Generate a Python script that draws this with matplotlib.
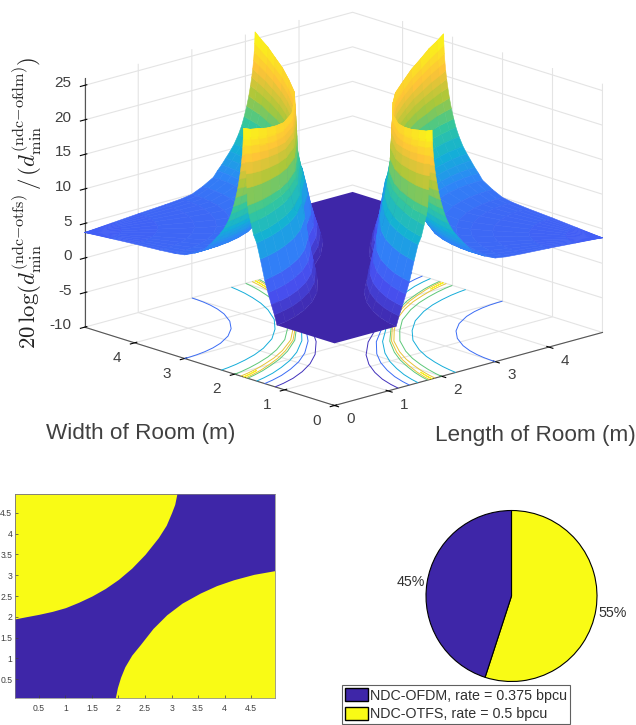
import numpy as np
import matplotlib
matplotlib.use("Agg")
import matplotlib.pyplot as plt
from matplotlib.colors import LinearSegmentedColormap, Normalize
from matplotlib.patches import Patch
from mpl_toolkits.mplot3d import proj3d
from mpl_toolkits.mplot3d.art3d import Poly3DCollection

plt.rcParams["font.family"] = ["Liberation Sans", "DejaVu Sans"]
plt.rcParams["mathtext.fontset"] = "cm"
plt.rcParams["axes.unicode_minus"] = False
plt.rcParams["grid.color"] = "#e4e4e4"
plt.rcParams["grid.linewidth"] = 0.8

BLUE = "#3e26a8"
YELLOW = "#f9fb15"
TEXT = "#404040"

angles_deg = [0, 3, 7, 12, 18, 25, 35, 45]
ridge_r = [3.18, 3.14, 3.09, 3.03, 2.98, 2.93, 2.89, 2.86]
rim_r = [3.85, 3.81, 3.75, 3.66, 3.55, 3.42, 3.25, 3.12]
# round the corner the surface only depends on the distance
bowl_r = [0, 0.5, 1.0, 1.5, 1.8, 2.0, 2.2, 2.4]
bowl_db = [3.7, 4.0, 4.3, 4.55, 4.75, 5.0, 5.7, 6.6]
# stations from r = 2.4 up to the ridge, then from the ridge down to the rim
rise_frac = [.1, .2, .3, .4, .5, .6, .68, .74, .8, .85, .89, .92, .945, .965, .98, .99, 1]
fall_frac = [.015, .03, .045, .06, .08, .1, .12, .16, .22, .3, .39, .5, .63, .73, .83, .92, 1]
gain_db = [
    [7.4, 8.1, 8.9, 9.7, 10.6, 11.8, 13, 14.2, 15.6, 17.0, 18.4, 19.6, 20.8, 22.0, 23.2, 24.4, 26.0,
     24.8, 23.6, 22.4, 21.2, 19.5, 17.5, 15.0, 13.8, 12.6, 11, 10, 7.8, 5, 3.3, 1.7, 0.4],
    [7.4, 8.1, 8.9, 9.7, 10.6, 11.8, 13, 14.1, 15.5, 16.8, 18.2, 19.3, 20.4, 21.6, 22.7, 23.9, 25.4,
     24.3, 23.1, 22.0, 20.8, 19.2, 17.3, 14.9, 13.8, 12.6, 11, 10, 7.8, 5, 3.3, 1.7, 0.4],
    [7.4, 8.1, 8.9, 9.7, 10.6, 11.8, 13, 14.1, 15.4, 16.7, 17.9, 19.0, 20.1, 21.2, 22.3, 23.4, 24.9,
     23.8, 22.7, 21.6, 20.5, 18.9, 17.1, 14.8, 13.7, 12.6, 11, 10, 7.8, 5, 3.3, 1.7, 0.4],
    [7.4, 8.1, 8.9, 9.7, 10.6, 11.8, 13, 14.0, 15.2, 16.4, 17.7, 18.7, 19.7, 20.8, 21.8, 22.8, 24.2,
     23.2, 22.1, 21.1, 20.1, 18.6, 16.9, 14.7, 13.7, 12.6, 11, 10, 7.8, 5, 3.3, 1.7, 0.4],
    [7.4, 8.1, 8.9, 9.7, 10.6, 11.8, 13, 14.0, 15.1, 16.3, 17.4, 18.4, 19.4, 20.3, 21.3, 22.3, 23.6,
     22.6, 21.6, 20.7, 19.7, 18.3, 16.7, 14.6, 13.7, 12.6, 11, 10, 7.8, 5, 3.3, 1.7, 0.4],
    [7.4, 8.1, 8.9, 9.7, 10.6, 11.8, 13, 13.9, 15.0, 16.1, 17.2, 18.1, 19.0, 20.0, 20.9, 21.8, 23.0,
     22.1, 21.2, 20.2, 19.3, 18.0, 16.5, 14.5, 13.6, 12.6, 11, 10, 7.8, 5, 3.3, 1.7, 0.4],
    [7.4, 8.1, 8.9, 9.7, 10.6, 11.8, 13, 13.9, 15.0, 16.0, 17.1, 18.0, 18.9, 19.8, 20.7, 21.6, 22.8,
     21.9, 21.0, 20.1, 19.2, 17.9, 16.4, 14.5, 13.6, 12.6, 11, 10, 7.8, 5, 3.3, 1.7, 0.4],
    [7.4, 8.1, 8.9, 9.7, 10.6, 11.8, 13, 13.9, 15.0, 16.1, 17.2, 18.1, 19.0, 20.0, 20.9, 21.8, 23.0,
     22.1, 21.2, 20.2, 19.3, 18.0, 16.5, 14.5, 13.6, 12.6, 11, 10, 7.8, 5, 3.3, 1.7, 0.4],
]
plateau_db = -1
contour_levels = [0, 5, 10, 15, 20, 25]

xy_ticks = [0, 1, 2, 3, 4]
z_ticks = [-10, -5, 0, 5, 10, 15, 20, 25]

# yellow regions of the map
ul_x = [0.05, 0.25, 0.5, 0.75, 1.0, 1.25, 1.5, 1.75, 2.0, 2.25, 2.5, 2.75, 2.9, 3.0, 3.06, 3.1]
ul_y = [1.95, 2.0, 2.06, 2.13, 2.22, 2.35, 2.5, 2.68, 2.9, 3.17, 3.5, 3.9, 4.2, 4.5, 4.7, 4.95]
lr_x = [1.94, 1.98, 2.04, 2.12, 2.25, 2.41, 2.65, 2.91, 3.2, 3.54, 3.85, 4.17, 4.55, 4.95]
lr_y = [0.05, 0.3, 0.55, 0.8, 1.08, 1.33, 1.72, 2.05, 2.33, 2.57, 2.75, 2.89, 3.02, 3.11]
map_ticks = [0.5, 1, 1.5, 2, 2.5, 3, 3.5, 4, 4.5]
map_labels = ["0.5", "1", "1.5", "2", "2.5", "3", "3.5", "4", "4.5"]

pie_shares = [55, 45]
pie_labels = ["55%", "45%"]
legend_labels = ["NDC-OFDM, rate = 0.375 bpcu", "NDC-OTFS, rate = 0.5 bpcu"]

parula = LinearSegmentedColormap.from_list("parula", [
    (0.00, BLUE), (0.14, "#4852f4"), (0.30, "#2d87f7"), (0.42, "#12b1d6"),
    (0.55, "#37c897"), (0.68, "#abc739"), (0.82, "#fec338"), (1.00, YELLOW)])
norm = Normalize(-1, 26)

W, H = 636, 725
fig = plt.figure(figsize=(W / 100, H / 100), dpi=100)

# 3d surface
size3d = 560
ax = fig.add_axes([56 / W, 232 / H, size3d / W, size3d / H], projection="3d",
                  proj_type="ortho", computed_zorder=False)
ax.patch.set_alpha(0)
ax.view_init(elev=17, azim=-133)
ax.set_xlim(0, 5, view_margin=0)
ax.set_ylim(0, 5, view_margin=0)
ax.set_zlim(-10, 26, view_margin=0)
ax.set_box_aspect((1, 1, 0.71), zoom=1.005)

half = np.radians(angles_deg)
angle = np.concatenate([half, np.pi / 2 - half[-2::-1]])
ridge = np.array(ridge_r + ridge_r[-2::-1])
rim = np.array(rim_r + rim_r[-2::-1])
table = np.array(gain_db + gain_db[-2::-1])
n_rows = len(angle)
radius = np.hstack([np.tile(bowl_r, (n_rows, 1)),
                    2.4 + np.outer(ridge - 2.4, rise_frac),
                    ridge[:, None] + np.outer(rim - ridge, fall_frac)])
gain = np.hstack([np.tile(bowl_db, (n_rows, 1)), table, np.full((n_rows, 1), plateau_db)])
X1 = radius * np.sin(angle)[:, None]
Y1 = 5 - radius * np.cos(angle)[:, None]
X2, Y2 = 5 - X1, 5 - Y1

floor = list(zip(X1[:, -1], Y1[:, -1]))
floor2 = list(zip(X2[:, -1], Y2[:, -1]))
outline = [(0, 0)] + floor + [(5, 5)] + floor2
plateau = Poly3DCollection([[(px, py, plateau_db) for px, py in outline]],
                           facecolor=parula(norm(plateau_db)), edgecolor="none")
plateau.set_zorder(1)
ax.add_collection3d(plateau)

cell_db = (gain[:-1, :-1] + gain[1:, :-1] + gain[:-1, 1:] + gain[1:, 1:]) / 4
cell_colors = parula(norm(cell_db))
for xs, ys in ((X1, Y1), (X2, Y2)):
    ax.contour(xs, ys, gain, levels=contour_levels, zdir="z", offset=-10,
               cmap=parula, norm=norm, linewidths=0.7, zorder=0.5)
    ax.plot_surface(xs, ys, gain, rstride=1, cstride=1, facecolors=cell_colors,
                    shade=False, linewidth=0.4, antialiased=True, zorder=2)

ax.set_xticks(xy_ticks)
ax.set_yticks(xy_ticks)
ax.set_zticks(z_ticks)
for axis in (ax.xaxis, ax.yaxis, ax.zaxis):
    axis.pane.set_visible(False)
    axis.line.set_color("#555555")
    axis.line.set_linewidth(0.8)
    axis.set_major_formatter(plt.NullFormatter())


def tick_text(x, y, z, label, ha):
    # plain 2d text at the projected spot, the 3d axis places its own labels too far off
    px, py, _ = proj3d.proj_transform(x, y, z, ax.get_proj())
    ax.text2D(px, py, label, transform=ax.transData, ha=ha, va="center",
              fontsize=11, color=TEXT)


for v in xy_ticks:
    tick_text(v - 0.28, -0.62, -10, str(v), "center")
    tick_text(-0.66, v - 0.35, -10, str(v), "center")
for v in z_ticks:
    tick_text(-0.07, 5.19, v, str(v), "right")

fig.text(27 / W, 1 - 203 / H,
         r"$20\,\log(d_{\rm min}^{({\rm ndc{-}otfs})}\,/\,(d_{\rm min}^{({\rm ndc{-}ofdm})})$",
         rotation=90, ha="center", va="center", fontsize=16.5, color="#222222")
fig.text(141 / W, 1 - 433 / H, "Width of Room (m)", ha="center", va="center",
         fontsize=16.2, color=TEXT)
fig.text(535 / W, 1 - 435 / H, "Length of Room (m)", ha="center", va="center",
         fontsize=16.2, color=TEXT)

# best scheme map
ax_map = fig.add_axes([15 / W, 1 - 698 / H, 260 / W, 204 / H])
ax_map.set_facecolor(BLUE)
ax_map.fill_between(ul_x, ul_y, 4.95, color=YELLOW, linewidth=0)
ax_map.fill_between(lr_x, 0.05, lr_y, color=YELLOW, linewidth=0)
ax_map.set_xlim(0.05, 4.95)
ax_map.set_ylim(0.05, 4.95)
ax_map.set_xticks(map_ticks, map_labels)
ax_map.set_yticks(map_ticks, map_labels)
ax_map.tick_params(direction="in", length=2, width=0.5, labelsize=6.2, colors=TEXT, pad=2)
ax_map.tick_params(axis="x", pad=4)
for spine in ax_map.spines.values():
    spine.set_linewidth(0.5)
    spine.set_color("#808080")

# share of the room
ax_pie = fig.add_axes([(511.5 - 100) / W, 1 - (596 + 100) / H, 200 / W, 200 / H])
wedges, texts = ax_pie.pie(pie_shares, colors=[YELLOW, BLUE], labels=pie_labels, radius=85.5 / 100,
                           startangle=90, counterclock=False, labeldistance=1.03,
                           wedgeprops={"edgecolor": "black", "linewidth": 0.8},
                           textprops={"fontsize": 10.3, "color": "#303030"})
for label, shift in zip(texts, (-0.035, 0.0)):
    px, py = label.get_position()
    label.set_position((px, py + shift))
ax_pie.set_xlim(-1, 1)
ax_pie.set_ylim(-1, 1)

handles = [Patch(facecolor=BLUE, edgecolor="black"), Patch(facecolor=YELLOW, edgecolor="black")]
leg = fig.legend(handles, legend_labels, loc="lower left", bbox_to_anchor=(342 / W, 1 / H),
                 borderaxespad=0, fontsize=10.3, fancybox=False, framealpha=1, edgecolor="#606060",
                 handlelength=1.6, handleheight=1.0, handletextpad=0.15, labelspacing=0.3,
                 borderpad=0.2, labelcolor="#303030")
leg.get_frame().set_linewidth(0.8)

fig.savefig("out.png", dpi=100)
